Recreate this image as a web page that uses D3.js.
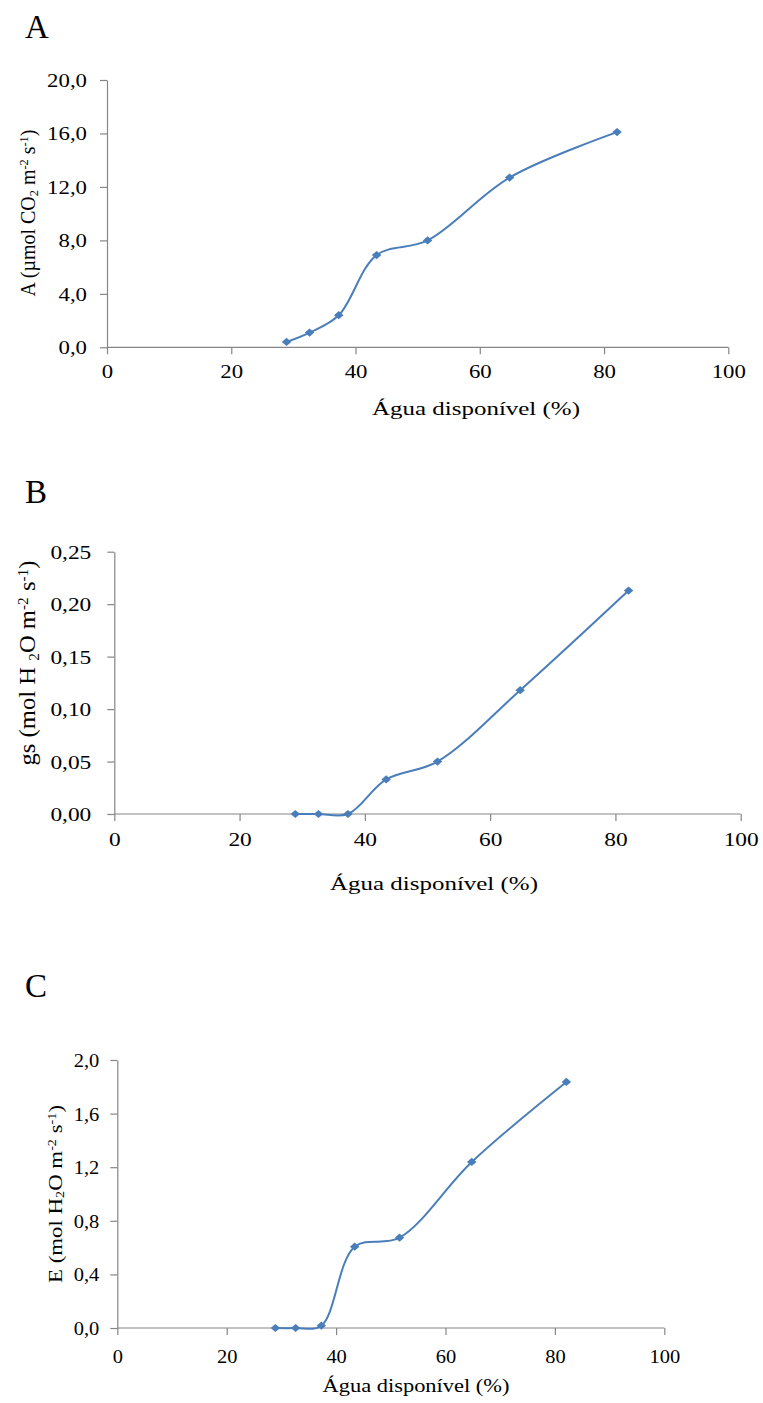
<!DOCTYPE html>
<html lang="pt">
<head>
  <meta charset="UTF-8">
  <title>Trocas gasosas x água disponível</title>
  <style>
  body { margin: 0; background: #fff; }
  svg text { font-family: "Liberation Serif", "Times New Roman", serif; fill: #000; }
  .axis path, .axis line { stroke: #868686; stroke-width: 1.2px; }
  .curve { fill: none; stroke: #4a7ebb; stroke-width: 2px; }
  .dot { fill: #4a7ebb; }
  </style>
</head>
<body>
  <script src="https://d3js.org/d3.v7.min.js"></script>
  <script type="text/javascript">

    // dados
    var aguaDisp = [28.9, 32.6, 37.3, 43.4, 51.6, 64.8, 82.1];
    var fotossintese = [0.4, 1.1, 2.4, 6.9, 8.0, 12.7, 16.1];
    var condutancia = [0, 0, 0, 0.033, 0.050, 0.118, 0.213];
    var transpiracao = [0, 0, 0.017, 0.607, 0.674, 1.239, 1.836];

    var xTicks = [0, 20, 40, 60, 80, 100];
    var aTicks = [0, 4, 8, 12, 16, 20];
    var gsTicks = [0, 0.05, 0.10, 0.15, 0.20, 0.25];
    var eTicks = [0, 0.4, 0.8, 1.2, 1.6, 2.0];

    var xTitle = "Água disponível (%)";

    var width = 763;
    var height = 1403;
    var svg = d3.select("body")
        .append("svg")
          .attr("width", width)
          .attr("height", height);

    // cada painel: posição na página e esticamento do texto (a figura original está deformada)
    var panels = [
      { letter: "A", ly: 38, values: fotossintese, ticks: aTicks, dec: 1,
        x0: 107, x1: 728.3, y0: 347.3, y1: 80, sx: 1.2, fs: 19,
        yLabelGap: 20, xLabelDy: 31, title: { x: 476, y: 415, w: 208 },
        ytitle: { x: 27, y: 213, len: 167, fs: 18, parts: [["A (µmol CO"], ["2", "sub"], [" m"], ["-2", "sup"], [" s"], ["-1", "sup"], [")"]] } },
      { letter: "B", ly: 503, values: condutancia, ticks: gsTicks, dec: 2,
        x0: 114.3, x1: 740.7, y0: 814, y1: 551.7, sx: 1.2, fs: 19.5,
        yLabelGap: 23, xLabelDy: 32, title: { x: 434, y: 890, w: 208 },
        ytitle: { x: 27, y: 663, len: 205, fs: 19, parts: [["gs (mol H "], ["2", "sub"], ["O m"], ["-2", "sup"], [" s"], ["-1", "sup"], [")"]] } },
      { letter: "C", ly: 997, values: transpiracao, ticks: eTicks, dec: 1,
        x0: 117.3, x1: 664.3, y0: 1328, y1: 1060, sx: 1.05, fs: 19.5,
        yLabelGap: 18, xLabelDy: 35, title: { x: 416, y: 1392, w: 187 },
        ytitle: { x: 55, y: 1194, len: 178, fs: 18, parts: [["E (mol H"], ["2", "sub"], ["O m"], ["-2", "sup"], [" s"], ["-1", "sup"], [")"]] } }
    ];

    var fmt = function(dec) {
      return function(d) { return d3.format("." + dec + "f")(d).replace(".", ","); };
    };

    panels.forEach(function(p) {
      var g = svg.append("g");

      var x = d3.scaleLinear().domain([0, 100]).range([p.x0, p.x1]);
      var y = d3.scaleLinear().domain([p.ticks[0], p.ticks[p.ticks.length - 1]]).range([p.y0, p.y1]);

      // letra do painel
      g.append("text")
          .attr("transform", "translate(25," + p.ly + ")")
          .style("font-size", "33px")
          .text(p.letter);

      // eixo y
      var yAxis = g.append("g")
          .attr("class", "axis")
          .attr("transform", "translate(" + p.x0 + ",0)")
          .call(d3.axisLeft(y).tickValues(p.ticks).tickSize(7).tickSizeOuter(0).tickFormat(fmt(p.dec)));
      yAxis.selectAll("text")
          .attr("x", null).attr("dy", null)
          .attr("transform", "translate(" + (-p.yLabelGap) + ",6.5) scale(" + p.sx + ",1)")
          .attr("text-anchor", "end")
          .style("font-size", p.fs + "px");

      // eixo x
      var xAxis = g.append("g")
          .attr("class", "axis")
          .attr("transform", "translate(0," + p.y0 + ")")
          .call(d3.axisBottom(x).tickValues(xTicks).tickSize(7).tickSizeOuter(0));
      xAxis.selectAll("text")
          .attr("y", null).attr("dy", null)
          .attr("transform", "translate(0," + p.xLabelDy + ") scale(" + p.sx + ",1)")
          .style("font-size", p.fs + "px");
      xAxis.selectAll(".domain").attr("d", "M" + p.x0 + ",0H" + p.x1);

      // título do eixo x, ajustado à largura lida
      var xt = g.append("text")
          .attr("text-anchor", "middle")
          .style("font-size", "19px")
          .text(xTitle);
      var kx = p.title.w / xt.node().getComputedTextLength();
      xt.attr("transform", "translate(" + p.title.x + "," + p.title.y + ") scale(" + kx + ",1)");

      // título do eixo y com índices
      var yt = g.append("text")
          .attr("text-anchor", "middle")
          .attr("dy", "0.35em")
          .style("font-size", p.ytitle.fs + "px");
      p.ytitle.parts.forEach(function(part) {
        var t = yt.append("tspan").text(part[0]);
        if (part[1] === "sub") t.attr("baseline-shift", "-25%").style("font-size", "0.62em");
        if (part[1] === "sup") t.attr("baseline-shift", "45%").style("font-size", "0.62em");
      });
      var ky = p.ytitle.len / yt.node().getComputedTextLength();
      yt.attr("transform", "translate(" + p.ytitle.x + "," + p.ytitle.y + ") rotate(-90) scale(" + ky + "," + p.sx + ")");

      // curva suavizada
      var pts = aguaDisp.map(function(v, i) { return [v, p.values[i]]; });
      var line = d3.line()
          .x(function(d) { return x(d[0]); })
          .y(function(d) { return y(d[1]); })
          .curve(d3.curveCatmullRom.alpha(0.5));

      g.append("path")
          .datum(pts)
          .attr("class", "curve")
          .attr("d", line);

      // marcadores em losango
      g.selectAll(".dot")
          .data(pts)
          .enter()
          .append("path")
            .attr("class", "dot")
            .attr("d", d3.symbol(d3.symbolSquare, 34))
            .attr("transform", function(d) {
              return "translate(" + x(d[0]) + "," + y(d[1]) + ") scale(1.15,1) rotate(45)";
            });
    });

  </script>
</body>
</html>
